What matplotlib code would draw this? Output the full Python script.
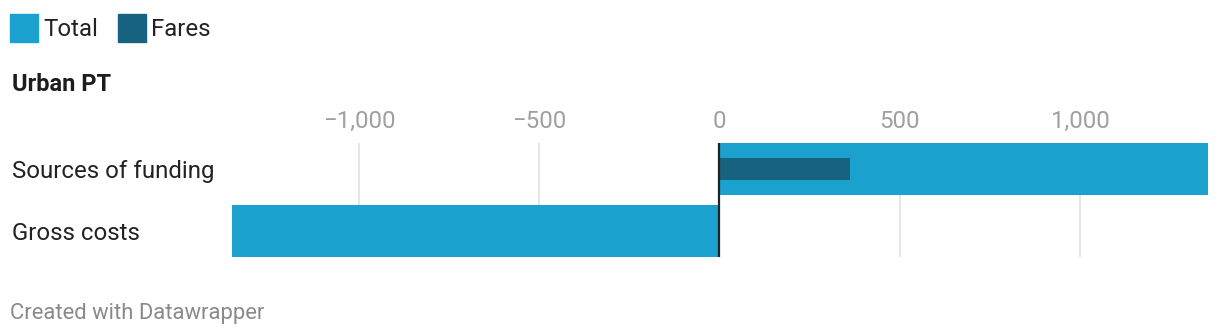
import matplotlib
matplotlib.use("Agg")
import matplotlib.pyplot as plt
import matplotlib.transforms as mtrans
from matplotlib.patches import Rectangle
from matplotlib.ticker import FuncFormatter

categories = ["Sources of funding", "Gross costs"]
total_values = [1355, -1352]
fares_values = [363, 0]
tick_values = [-1000, -500, 0, 500, 1000]

TOTAL_C = "#1ba1cd"
FARES_C = "#17627e"

plt.rcParams['font.family'] = ['Roboto', 'DejaVu Sans']

W, H = 1220, 336
fig = plt.figure(figsize=(W / 100, H / 100), dpi=100)

left, right, top, bottom = 232, 1208, 143, 257
ax = fig.add_axes([left / W, 1 - bottom / H, (right - left) / W, (bottom - top) / H])

ypos = list(range(len(categories)))
ax.barh(ypos, total_values, height=0.84, color=TOTAL_C, zorder=2)
ax.barh(ypos, fares_values, height=0.36, color=FARES_C, zorder=3)

ax.set_xlim(-1352, 1355)
ax.set_ylim(1.42, -0.42)
ax.set_xticks(tick_values)
ax.xaxis.set_major_formatter(FuncFormatter(lambda v, p: f"{int(v):,}".replace("-", "\u2212")))
ax.xaxis.tick_top()
ax.tick_params(axis='x', length=0, pad=7, labelsize=17.3, labelcolor="#a0a0a0")
ax.set_yticks([])
for s in ax.spines.values():
    s.set_visible(False)
ax.grid(axis='x', color="#e2e2e2", linewidth=1.2, zorder=0)
ax.set_axisbelow(True)
ax.axvline(0, color="#222222", linewidth=1.6, zorder=4)

blend = mtrans.blended_transform_factory(fig.transFigure, ax.transData)
for y, c in zip(ypos, categories):
    ax.text(12 / W, y, c, transform=blend, fontsize=17.3, color="#222222",
            va='center_baseline', ha='left')

# legend
def legend_item(x, label, color):
    fig.patches.append(Rectangle((x / W, 1 - 42 / H), 28 / W, 28 / H, transform=fig.transFigure,
                                 color=color, figure=fig))
    fig.text((x + 33) / W, 1 - 27 / H, label, fontsize=17.3, color="#222222",
             va='center_baseline', ha='left')

legend_item(10, "Total", TOTAL_C)
legend_item(118, "Fares", FARES_C)

fig.text(12 / W, 1 - 82 / H, "Urban PT", fontsize=17, fontweight='bold', color="#1d1d1d",
         va='center_baseline', ha='left')
fig.text(10 / W, 1 - 311 / H, "Created with Datawrapper", fontsize=15.8, color="#8a8a8a",
         va='center_baseline', ha='left')

fig.savefig("out.png", dpi=100, facecolor="white")
